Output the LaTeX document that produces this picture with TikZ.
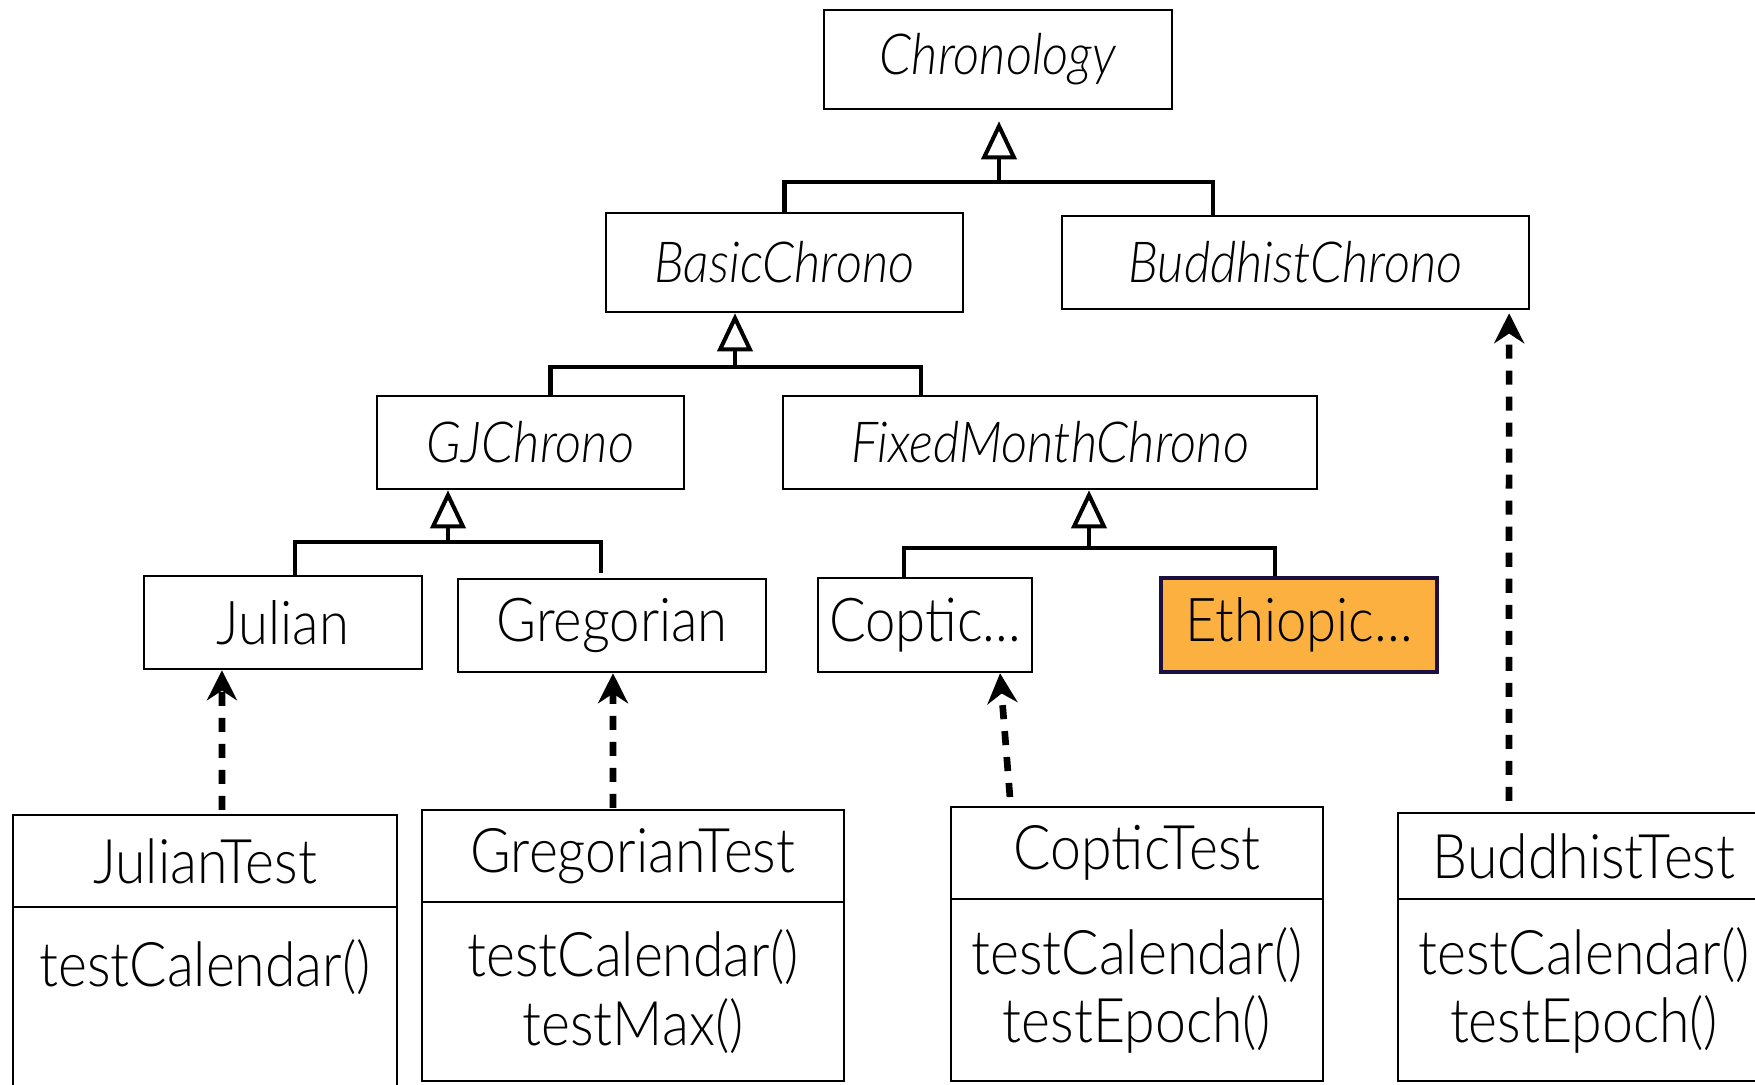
\documentclass[tikz,border=0pt]{standalone}
\usepackage{fontspec}
\setmainfont{Lato Light}[FakeStretch=0.9]
\usetikzlibrary{arrows.meta}

\definecolor{ethiofill}{HTML}{FBB03F}
\definecolor{ethiodraw}{HTML}{1B1040}

\tikzset{
  chrono/.style={draw, line width=0.7pt, inner sep=0pt,
    font=\fontsize{16.1}{19}\selectfont\itshape},
  calendar/.style={draw, line width=0.7pt, inner sep=0pt,
    font=\fontsize{17.2}{20}\selectfont},
  testhead/.style={draw, line width=0.7pt, inner sep=0pt, outer sep=0pt,
    font=\fontsize{17.5}{20}\selectfont},
  testbody/.style={inner sep=0pt, outer sep=0pt, anchor=north,
    align=center, font=\fontsize{17.5}{19.4}\selectfont},
  tree/.style={line width=1.15pt},
  inherit/.style={line width=1.15pt, -{Triangle[open, length=0.38cm, width=0.35cm]}},
  depend/.style={line width=1.9pt, dash pattern=on 4pt off 3.4pt,
    -{Stealth[length=0.3cm, width=0.3cm]}},
}

\begin{document}
\begin{tikzpicture}[x=0.01cm, y=-0.01cm]
\useasboundingbox (0,0) rectangle (1755,1084);
\clip (0,0) rectangle (1755,1084);

% abstract chronologies
\node[chrono, minimum width=3.48cm, minimum height=0.99cm] (chrono) at (998,59.5) {Chronology};
\node[chrono, minimum width=3.57cm, minimum height=0.99cm] (basic) at (784.5,262.5) {BasicChrono};
\node[chrono, minimum width=4.67cm, minimum height=0.93cm] (buddhist) at (1295.5,262.5) {BuddhistChrono};
\node[chrono, minimum width=3.07cm, minimum height=0.93cm] (gj) at (530.5,442.5) {GJChrono};
\node[chrono, minimum width=5.34cm, minimum height=0.93cm] (fixed) at (1050,442.5) {FixedMonthChrono};

% concrete calendars
\node[calendar, minimum width=2.78cm, minimum height=0.93cm] (julian) at (283,622.5) {Julian};
\node[calendar, minimum width=3.08cm, minimum height=0.93cm] (gregorian) at (612,625.5) {Gregorian};
\node[calendar, minimum width=2.14cm, minimum height=0.94cm] (coptic) at (925,625) {Coptic...};
\node[calendar, minimum width=2.76cm, minimum height=0.94cm, fill=ethiofill,
  draw=ethiodraw, line width=1.1pt] (ethiopic) at (1299,625) {Ethiopic...};

% test classes
\node[testhead, minimum width=3.84cm, minimum height=0.92cm] (julianT) at (205,861) {JulianTest};
\node[testbody, minimum width=3.84cm, minimum height=1.8cm] (julianB) at (julianT.south) {testCalendar()\\ \mbox{}};
\node[testhead, minimum width=4.22cm, minimum height=0.92cm] (gregT) at (633,856) {GregorianTest};
\node[testbody, minimum width=4.22cm, minimum height=1.79cm] (gregB) at (gregT.south) {testCalendar()\\ testMax()};
\node[testhead, minimum width=3.72cm, minimum height=0.92cm] (copticT) at (1137,853) {CopticTest};
\node[testbody, minimum width=3.72cm, minimum height=1.82cm] (copticB) at (copticT.south) {testCalendar()\\ testEpoch()};
\node[testhead, minimum width=3.72cm, minimum height=0.86cm] (buddhT) at (1584,856) {BuddhistTest};
\node[testbody, minimum width=3.72cm, minimum height=1.82cm] (buddhB) at (buddhT.south) {testCalendar()\\ testEpoch()};

% method compartments, open at the top
\foreach \b in {julianB,gregB,copticB,buddhB}
  \draw[line width=0.7pt] (\b.north west) |- (\b.south east) -- (\b.north east);

% inheritance
\coordinate (chronoBar) at (999,182);
\coordinate (basicBar) at (735,367);
\coordinate (gjBar) at (448,542);
\coordinate (fixedBar) at (1089,548);

\draw[inherit, shorten >=0.11cm] (chronoBar) -- (chronoBar |- chrono.south);
\draw[tree] (basic.north) |- (chronoBar) -| ([xshift=-0.825cm]buddhist.north);
\draw[inherit] (basicBar) -- (basicBar |- basic.south);
\draw[tree] ([xshift=0.2cm]gj.north) |- (basicBar) -| ([xshift=-1.29cm]fixed.north);
\draw[inherit] (gjBar) -- (gjBar |- gj.south);
\draw[tree] ([xshift=0.12cm]julian.north) |- (gjBar) -| ([xshift=-0.11cm,yshift=0.05cm]gregorian.north);
\draw[inherit] (fixedBar) -- (fixedBar |- fixed.south);
\draw[tree] ([xshift=-0.21cm]coptic.north) |- (fixedBar) -| ([xshift=-0.24cm]ethiopic.north);

% tests depend on calendars
\draw[depend] ([xshift=0.17cm,yshift=0.05cm]julianT.north) -- ([xshift=-0.61cm]julian.south);
\draw[depend] ([xshift=-0.2cm,yshift=0.02cm]gregT.north) -- ([xshift=0.01cm]gregorian.south);
\draw[depend] ([xshift=-1.27cm,yshift=0.1cm]copticT.north) -- ([xshift=0.75cm]coptic.south);
\draw[depend] ([xshift=-0.75cm,yshift=0.12cm]buddhT.north) -- ([xshift=2.135cm,yshift=-0.03cm]buddhist.south);
\end{tikzpicture}
\end{document}
